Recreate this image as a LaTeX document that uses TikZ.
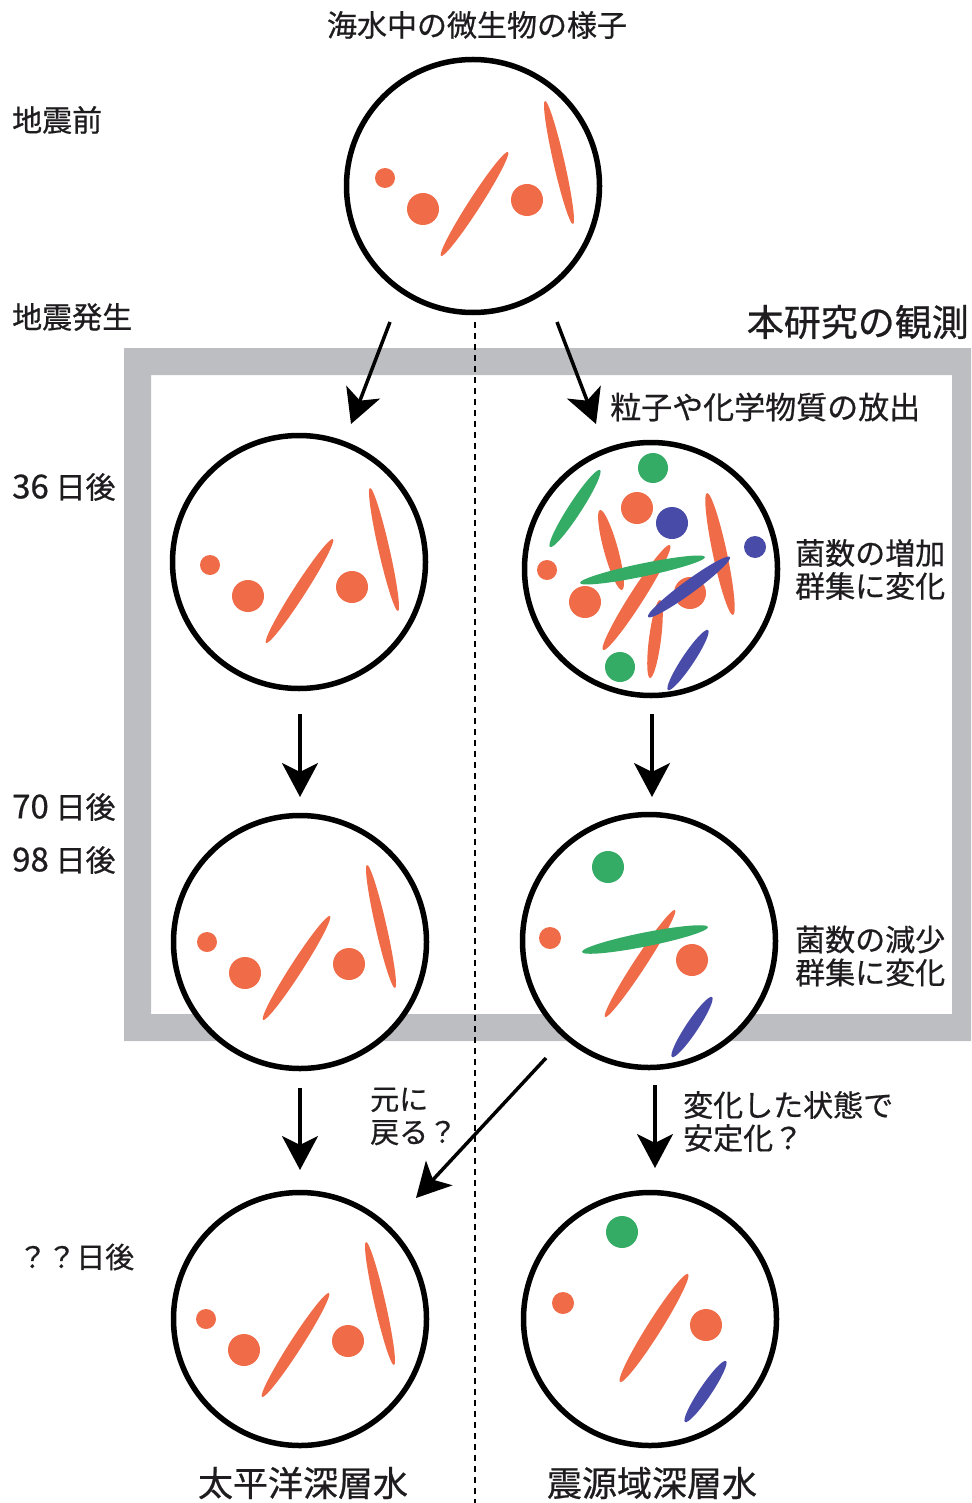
\documentclass[tikz,border=0pt]{standalone}
\usepackage{fontspec}
\setmainfont{Noto Sans CJK JP}[FakeBold=0.6]
\usetikzlibrary{arrows.meta}

\definecolor{ink}{RGB}{30,28,30}
\definecolor{bandgray}{RGB}{189,190,193}
\definecolor{cellorange}{RGB}{240,108,72}
\definecolor{cellgreen}{RGB}{52,172,102}
\definecolor{cellblue}{RGB}{72,76,168}

% round microbe: x, y, radius, colour
\newcommand\blob[4]{\fill[#4] (#1,#2) circle[radius=#3pt];}
% rod-shaped microbe from (x1,y1) to (x2,y2), half width, colour
\newcommand\rod[6]{%
  \pgfmathsetmacro\rodcx{(#1+#3)/2}%
  \pgfmathsetmacro\rodcy{(#2+#4)/2}%
  \pgfmathsetmacro\rodlen{veclen(#3-#1,#4-#2)/2}%
  \pgfmathsetmacro\rodang{atan2(#2-#4,#3-#1)}%
  \fill[#6, shift={(\rodcx,\rodcy)}, rotate=\rodang] (0,0) circle[x radius=\rodlen pt, y radius=#5pt];}
% the ordinary community of orange microbes
\newcommand\calmcells[2]{%
  \begin{scope}[shift={(#1,#2)}]
    \blob{-91}{1}{10}{cellorange}
    \blob{-53}{32}{16}{cellorange}
    \blob{51}{23}{16}{cellorange}
    \rod{-35}{79}{32}{-25}{6}{cellorange}
    \rod{69}{-76}{97}{47}{5.5}{cellorange}
  \end{scope}}

\tikzset{
  cell/.style={circle, draw=black, line width=5.5pt, fill=white, minimum size=253pt, inner sep=0pt},
  lab/.style={inner sep=0pt, anchor=west, text=ink, align=left, font=\fontsize{30pt}{33pt}\selectfont},
  arr/.style={draw=black, line width=3.5pt, -{Stealth[length=34pt, width=36pt, inset=9pt]}},
  axisline/.style={draw=black, line width=2.5pt, dash pattern=on 6pt off 5pt},
}

\begin{document}
\begin{tikzpicture}[x=1pt, y=-1pt]
\useasboundingbox (0,0) rectangle (971,1503);

% observation frame
\fill[bandgray, even odd rule] (124,348) rectangle (971,1041) (151,375) rectangle (952,1014);

% dividing line between the two water masses
\coordinate (axtop) at (475,322);
\coordinate (axbot) at (475,1503);
\draw[axisline] (axtop) -- (axbot);

% sample circles
\node[cell] (c0) at (473,186) {};
\node[cell] (l1) at (299,562) {};
\node[cell] (r1) at (651,569) {};
\node[cell] (l2) at (300,942) {};
\node[cell] (r2) at (649,941) {};
\node[cell] (l3) at (300,1319) {};
\node[cell] (r3) at (650,1319) {};

% before the earthquake and the unchanged Pacific water
\calmcells{476}{177}
\calmcells{301}{564}
\calmcells{298}{941}
\calmcells{297}{1318}

% 36 days after, source region
\rod{600}{510}{622}{590}{7}{cellorange}
\rod{603}{650}{670}{545}{7}{cellorange}
\rod{707}{493}{733}{615}{7}{cellorange}
\rod{650}{678}{660}{600}{6}{cellorange}
\blob{637}{508}{16}{cellorange}
\blob{547}{570}{10}{cellorange}
\blob{585}{602}{16}{cellorange}
\blob{690}{593}{16}{cellorange}
\rod{550}{547}{600}{470}{6.5}{cellgreen}
\rod{580}{583}{705}{557}{6.5}{cellgreen}
\blob{653}{468}{15}{cellgreen}
\blob{620}{667}{15}{cellgreen}
\blob{672}{523}{16}{cellblue}
\blob{755}{547}{11}{cellblue}
\rod{648}{617}{730}{557}{6.5}{cellblue}
\rod{668}{690}{708}{630}{6}{cellblue}

% 70 and 98 days after, source region
\blob{608}{867}{16}{cellgreen}
\blob{550}{938}{11}{cellorange}
\rod{605}{1017}{675}{910}{6}{cellorange}
\rod{582}{952}{708}{927}{7}{cellgreen}
\blob{692}{960}{16}{cellorange}
\rod{672}{1057}{712}{997}{6}{cellblue}

% later, source region
\blob{622}{1232}{16}{cellgreen}
\blob{563}{1303}{11}{cellorange}
\rod{620}{1382}{688}{1274}{7}{cellorange}
\blob{706}{1325}{16}{cellorange}
\rod{685}{1422}{726}{1361}{6}{cellblue}

% arrows
\coordinate (a0s) at (390,322);  \coordinate (a0e) at (351,424);
\coordinate (b0s) at (557,322);  \coordinate (b0e) at (596,424);
\coordinate (a1s) at (300,714);  \coordinate (a1e) at (300,797);
\coordinate (b1s) at (652,714);  \coordinate (b1e) at (652,797);
\coordinate (a2s) at (300,1088); \coordinate (a2e) at (300,1170);
\coordinate (b2s) at (655,1085); \coordinate (b2e) at (655,1168);
\coordinate (d2s) at (546,1058); \coordinate (d2e) at (416,1198);
\draw[arr] (a0s) -- (a0e);
\draw[arr] (b0s) -- (b0e);
\draw[arr] (a1s) -- (a1e);
\draw[arr] (b1s) -- (b1e);
\draw[arr] (a2s) -- (a2e);
\draw[arr] (b2s) -- (b2e);
\draw[arr] (d2s) -- (d2e);

% labels
\node[lab, anchor=center] (title) at (477,25) {海水中の微生物の様子};
\node[lab] (before) at (12,120) {地震前};
\node[lab] (quake) at (12,317) {地震発生};
\node[lab, anchor=east, font=\fontsize{37pt}{40pt}\selectfont] (study) at (969,322) {本研究の観測};
\node[lab, font=\fontsize{31pt}{34pt}\selectfont] (release) at (610,407) {粒子や化学物質の放出};
\node[lab] (d36) at (12,487) {{\fontsize{33pt}{33pt}\selectfont 36} 日後};
\node[lab] (rise) at (795,569.5) {菌数の増加\\群集に変化};
\node[lab] (d70) at (12,807) {{\fontsize{33pt}{33pt}\selectfont 70} 日後};
\node[lab] (d98) at (12,860) {{\fontsize{33pt}{33pt}\selectfont 98} 日後};
\node[lab] (fall) at (795,956) {菌数の減少\\群集に変化};
\node[lab, font=\fontsize{29pt}{33pt}\selectfont] (back) at (370,1116.5) {元に\\戻る？};
\node[lab] (stay) at (683,1121.5) {変化した状態で\\安定化？};
\node[lab, font=\fontsize{29pt}{33pt}\selectfont] (dq) at (18,1257) {？？日後};
\node[lab, anchor=center, font=\fontsize{35pt}{38pt}\selectfont] (pacific) at (303,1483) {太平洋深層水};
\node[lab, anchor=center, font=\fontsize{35pt}{38pt}\selectfont] (source) at (652,1483) {震源域深層水};
\end{tikzpicture}
\end{document}
